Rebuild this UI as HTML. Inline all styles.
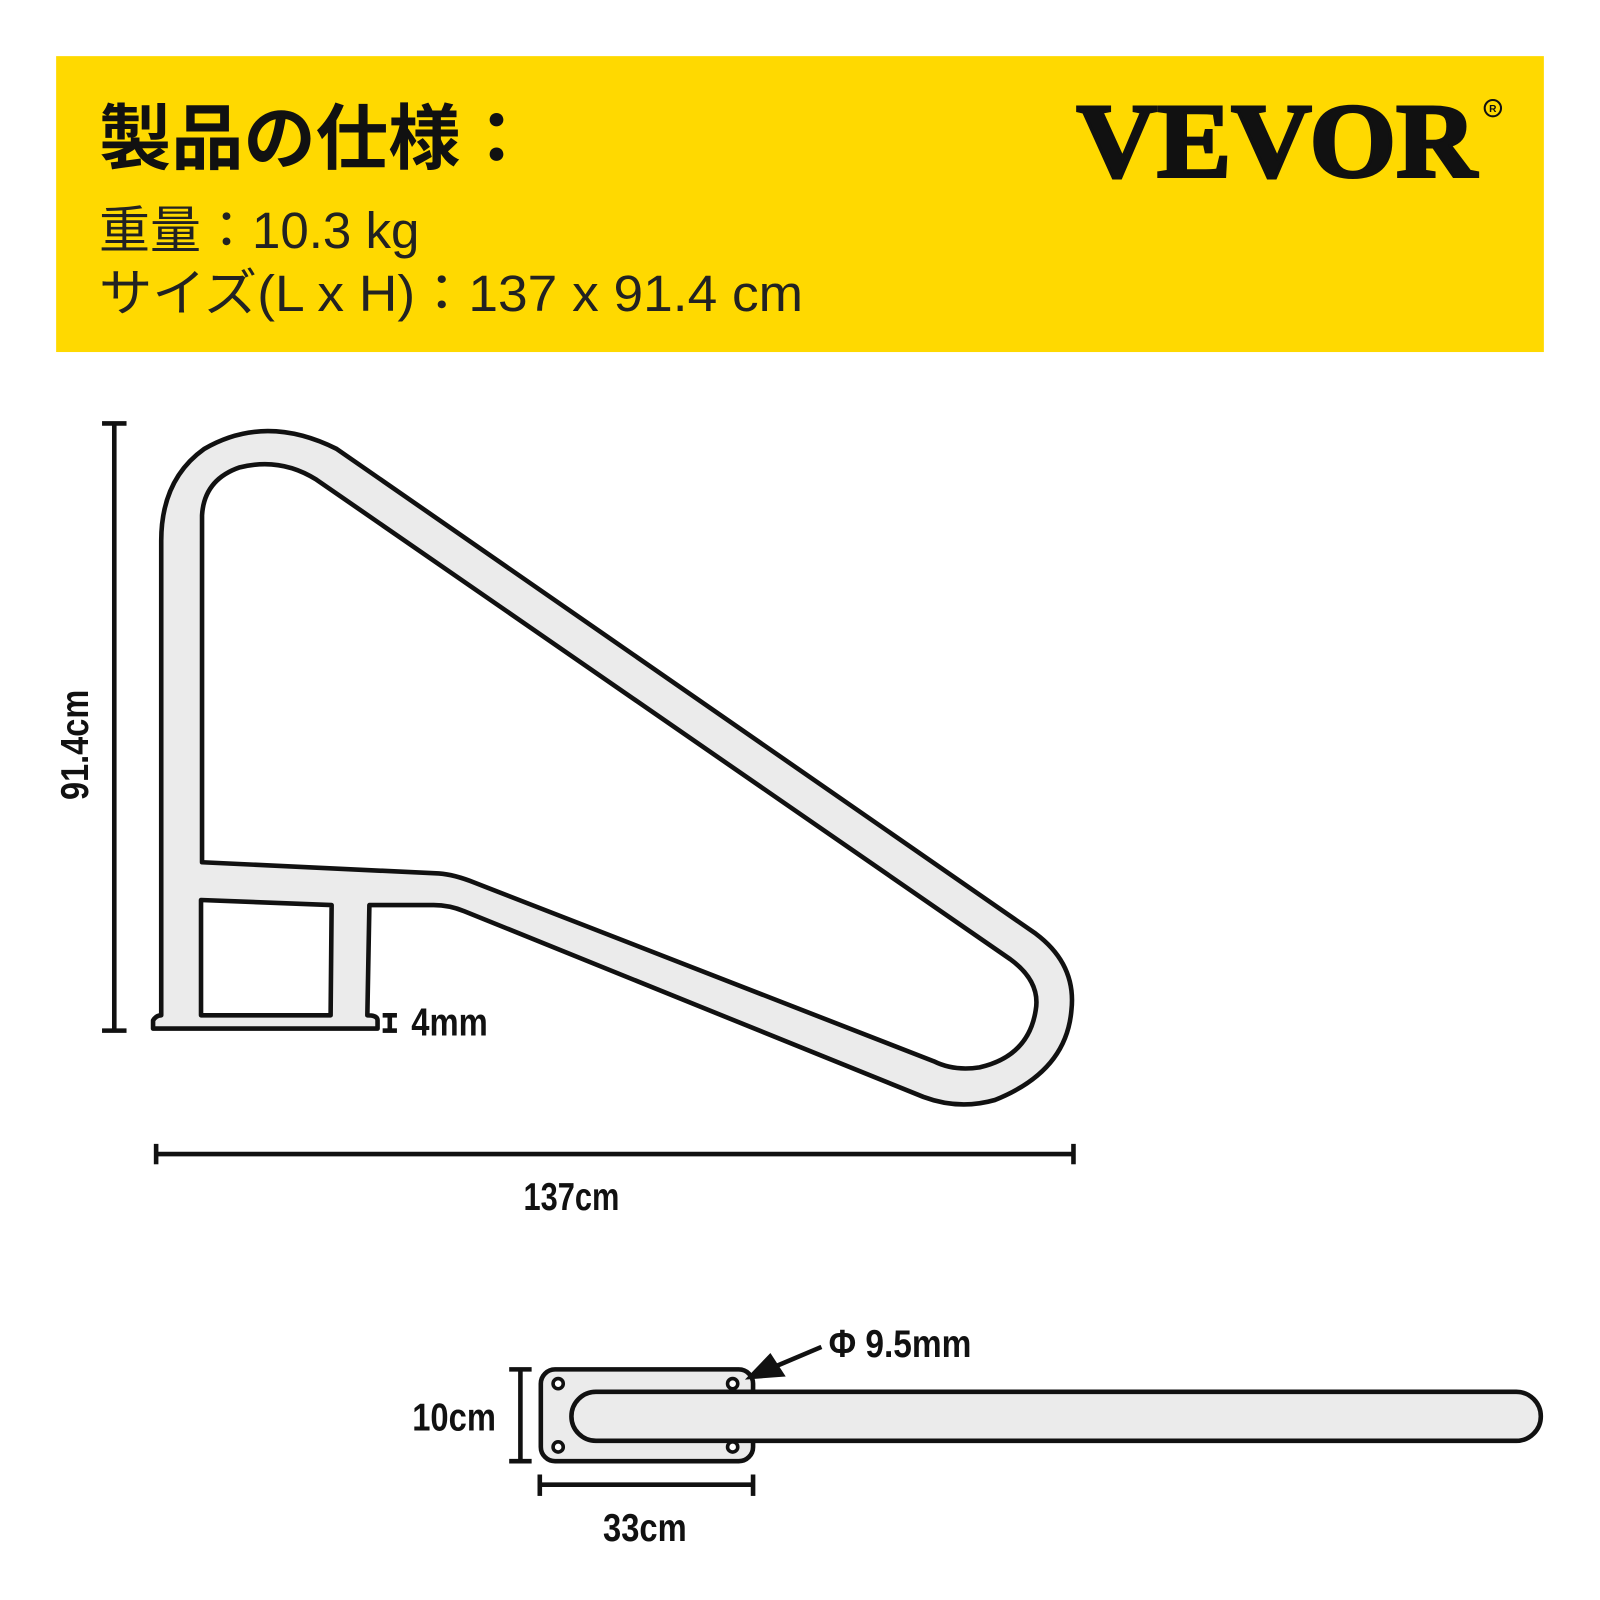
<!DOCTYPE html>
<html><head><meta charset="utf-8"><style>
html,body{margin:0;padding:0;background:#fff;}
svg{display:block;}
.jp{font-family:"Liberation Sans","Noto Sans CJK JP",sans-serif;}
.c{font-family:"Liberation Sans Narrow","Liberation Sans",sans-serif;font-weight:bold;fill:#111;}
</style></head><body>
<svg width="1600" height="1600" viewBox="0 0 1568 1568" xmlns="http://www.w3.org/2000/svg">
<rect x="0" y="0" width="1568" height="1568" fill="#fff"/>
<rect x="55" y="55" width="1458" height="290" fill="#FFD900"/>
<text class="jp" x="97" y="160" font-size="70" font-weight="bold" fill="#111" textLength="425" lengthAdjust="spacingAndGlyphs">製品の仕様：</text>
<text class="jp" x="97" y="243" font-size="50" fill="#222">重量：10.3 kg</text>
<text class="jp" x="97" y="305" font-size="50" fill="#222" textLength="690" lengthAdjust="spacingAndGlyphs">サイズ(L x H)：137 x 91.4 cm</text>
<text x="1055" y="173" font-family="Liberation Serif, serif" font-weight="bold" font-size="104" fill="#111" textLength="392" lengthAdjust="spacingAndGlyphs" stroke="#111" stroke-width="3">VEVOR</text>
<circle cx="1463" cy="106" r="8" fill="none" stroke="#111" stroke-width="2"/>
<text x="1463" y="110" font-family="Liberation Sans" font-size="10" font-weight="bold" text-anchor="middle" fill="#111">R</text>

<path fill="#ebebeb" stroke="#111" stroke-width="4.5" stroke-linejoin="round" fill-rule="evenodd"
d="M150,1008 L150,1000 Q153,995 158,995 L158,530 Q158,470 200,440 Q260,405 330,440 L1015,915 Q1055,945 1050,990 Q1045,1050 975,1078 Q940,1088 905,1075 L455,893 Q440,887 425,887 L362,887 L360,995 Q370,995 370,1000 L370,1008 Z
M198,845 L198,505 Q200,470 235,458 Q275,448 310,470 L990,940 Q1020,962 1015,990 Q1008,1035 960,1046 Q935,1050 915,1040 L465,865 Q445,857 430,856 Z
M197,882 L325,887 L324,995 L197,995 Z"/>

<g stroke="#111" stroke-width="4.5">
<line x1="112" y1="415" x2="112" y2="1010"/>
<line x1="100" y1="415" x2="124" y2="415"/>
<line x1="100" y1="1010" x2="124" y2="1010"/>
<line x1="153" y1="1131" x2="1052" y2="1131"/>
<line x1="153" y1="1121" x2="153" y2="1141"/>
<line x1="1052" y1="1121" x2="1052" y2="1141"/>
<line x1="382" y1="995" x2="382" y2="1010"/>
<line x1="375" y1="995" x2="389" y2="995"/>
<line x1="375" y1="1010" x2="389" y2="1010"/>
</g>
<text class="c" transform="translate(86,730) rotate(-90)" font-size="38" text-anchor="middle" textLength="108" lengthAdjust="spacingAndGlyphs">91.4cm</text>
<text class="c" x="560" y="1186" font-size="38" text-anchor="middle" textLength="94" lengthAdjust="spacingAndGlyphs">137cm</text>
<text class="c" x="403" y="1015" font-size="38" textLength="75" lengthAdjust="spacingAndGlyphs">4mm</text>

<rect x="530" y="1342" width="208" height="90" rx="14" fill="#ebebeb" stroke="#111" stroke-width="4.5"/>
<g fill="#fff" stroke="#111" stroke-width="3.5">
<circle cx="547" cy="1356" r="5"/><circle cx="718" cy="1356" r="5"/>
<circle cx="547" cy="1418" r="5"/><circle cx="718" cy="1418" r="5"/>
</g>
<rect x="560" y="1364" width="950" height="48" rx="24" fill="#ebebeb" stroke="#111" stroke-width="4.5"/>
<g stroke="#111" stroke-width="4.5">
<line x1="510" y1="1342" x2="510" y2="1432"/>
<line x1="499" y1="1342" x2="521" y2="1342"/>
<line x1="499" y1="1432" x2="521" y2="1432"/>
<line x1="529" y1="1455" x2="738" y2="1455"/>
<line x1="529" y1="1445" x2="529" y2="1466"/>
<line x1="738" y1="1445" x2="738" y2="1466"/>
<line x1="805" y1="1320" x2="760" y2="1339"/>
</g>
<polygon points="730,1352 755,1326 770,1349" fill="#111"/>
<text class="c" x="404" y="1402" font-size="38" textLength="82" lengthAdjust="spacingAndGlyphs">10cm</text>
<text class="c" x="632" y="1510" font-size="38" text-anchor="middle" textLength="82" lengthAdjust="spacingAndGlyphs">33cm</text>
<text class="c" x="812" y="1330" font-size="38" textLength="140" lengthAdjust="spacingAndGlyphs">Φ 9.5mm</text>
</svg>
</body></html>
